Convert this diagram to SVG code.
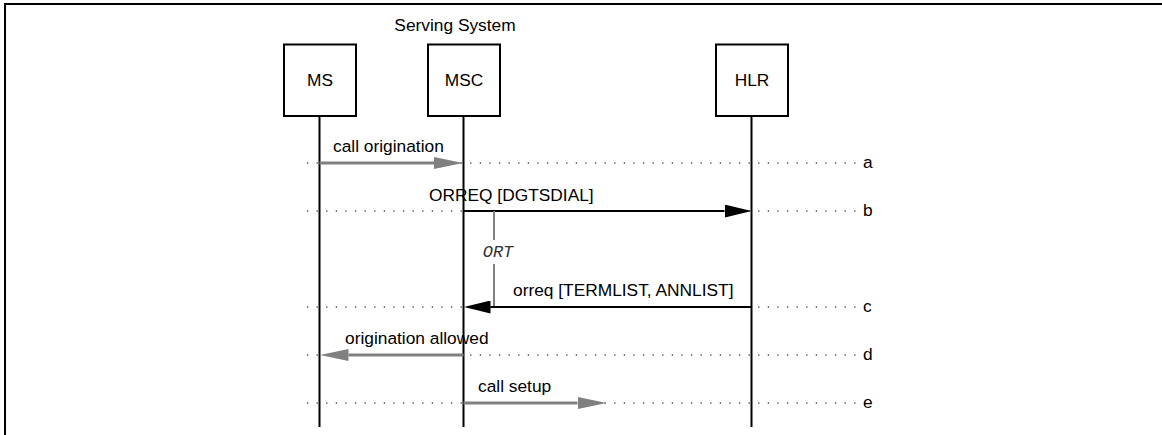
<svg xmlns="http://www.w3.org/2000/svg" width="1162" height="435" viewBox="0 0 1162 435">
  <style>
    .txt { font-family: "Liberation Sans", Arial, sans-serif; font-size: 17.33px; fill: #000; }
    .box { fill: #fff; stroke: #000; stroke-width: 2; }
    .life { stroke: #000; stroke-width: 2; }
    .dots { stroke: #444; stroke-width: 1.5; stroke-dasharray: 1.2 8.4; fill: none; }
    .gray { stroke: #808080; stroke-width: 3.2; fill: none; }
    .black { stroke: #000; stroke-width: 2; fill: none; }
    .timer { stroke: #808080; stroke-width: 2; }
    .ort { font-family: "Liberation Mono", "Courier New", monospace; font-style: italic; font-size: 17px; fill: #333; }
  </style>
  <defs>
    <marker id="hg" markerUnits="userSpaceOnUse" viewBox="0 0 29 12" refX="0" refY="6" markerWidth="29" markerHeight="12" orient="auto">
      <path d="M0,0 L29,6 L0,12 Z" fill="#808080"/>
    </marker>
    <marker id="hb" markerUnits="userSpaceOnUse" viewBox="0 0 27 13" refX="0" refY="6.5" markerWidth="27" markerHeight="13" orient="auto">
      <path d="M0,0 L27,6.5 L0,13 Z" fill="#000"/>
    </marker>
  </defs>
  <rect x="0" y="0" width="1162" height="435" fill="#fff"/>
  <rect x="5" y="4" width="1200" height="500" fill="none" stroke="#000" stroke-width="2"/>

  <text class="txt" x="455" y="31" text-anchor="middle">Serving System</text>

  <g id="dotted">
    <line class="dots" x1="307" y1="163" x2="860" y2="163"/>
    <line class="dots" x1="307" y1="211" x2="860" y2="211"/>
    <line class="dots" x1="307" y1="307" x2="860" y2="307"/>
    <line class="dots" x1="307" y1="355" x2="860" y2="355"/>
    <line class="dots" x1="307" y1="403" x2="860" y2="403"/>
  </g>

  <g id="node-MS">
    <line class="life" x1="319.5" y1="116" x2="319.5" y2="427"/>
    <rect class="box" x="284" y="44.5" width="72" height="71.5"/>
    <text class="txt" x="320" y="86" text-anchor="middle">MS</text>
  </g>
  <g id="node-MSC">
    <line class="life" x1="463.5" y1="116" x2="463.5" y2="427"/>
    <rect class="box" x="428" y="44.5" width="72" height="71.5"/>
    <text class="txt" x="464" y="86" text-anchor="middle">MSC</text>
  </g>
  <g id="node-HLR">
    <line class="life" x1="751.5" y1="116" x2="751.5" y2="427"/>
    <rect class="box" x="716" y="44.5" width="72" height="71.5"/>
    <text class="txt" x="752" y="86" text-anchor="middle">HLR</text>
  </g>

  <g id="connectors">
    <line class="gray" x1="319.5" y1="163" x2="434" y2="163" marker-end="url(#hg)"/>
    <text class="txt" x="333" y="152">call origination</text>

    <line class="black" x1="463.5" y1="211" x2="724.5" y2="211" marker-end="url(#hb)"/>
    <text class="txt" x="429" y="200.5">ORREQ [DGTSDIAL]</text>

    <line class="timer" x1="494" y1="211" x2="494" y2="240"/>
    <line class="timer" x1="494" y1="264" x2="494" y2="307"/>
    <text class="ort" x="498" y="257" text-anchor="middle">ORT</text>

    <line class="black" x1="751.5" y1="307" x2="490.5" y2="307" marker-end="url(#hb)"/>
    <text class="txt" x="513" y="295.5">orreq [TERMLIST, ANNLIST]</text>

    <line class="gray" x1="463.5" y1="355" x2="348.5" y2="355" marker-end="url(#hg)"/>
    <text class="txt" x="345" y="344">origination allowed</text>

    <line class="gray" x1="463.5" y1="403" x2="577.5" y2="403" marker-end="url(#hg)"/>
    <text class="txt" x="478" y="391.5">call setup</text>
  </g>

  <g id="labels">
    <text class="txt" x="863" y="168">a</text>
    <text class="txt" x="863" y="216">b</text>
    <text class="txt" x="863" y="312">c</text>
    <text class="txt" x="863" y="360">d</text>
    <text class="txt" x="863" y="408">e</text>
  </g>
</svg>
